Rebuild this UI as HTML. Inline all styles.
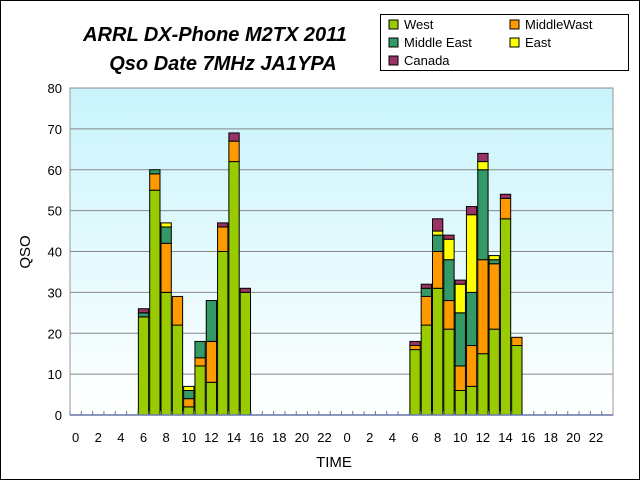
<!DOCTYPE html>
<html><head><meta charset="utf-8"><style>
body{margin:0;background:#fff;font-family:"Liberation Sans",sans-serif}
</style></head><body>
<svg id="c" width="640" height="480" xmlns="http://www.w3.org/2000/svg">
<defs><linearGradient id="g" x1="0" y1="0" x2="0" y2="1"><stop offset="0" stop-color="#c8f4fc"/><stop offset="1" stop-color="#ffffff"/></linearGradient></defs>
<rect x="0.5" y="0.5" width="639" height="479" fill="#fff" stroke="#000"/>
<text x="215" y="41" font-size="20" font-weight="bold" font-style="italic" text-anchor="middle">ARRL DX-Phone M2TX 2011</text>
<text x="223" y="70" font-size="20" font-weight="bold" font-style="italic" text-anchor="middle">Qso Date 7MHz JA1YPA</text>
<g id="legend">
<rect x="380.5" y="14.5" width="248" height="56" fill="#fff" stroke="#000"/>
</g>
<rect x="70" y="88" width="543" height="327" fill="url(#g)" stroke="#999"/>
<g id="grid"></g><g id="bars"></g><g id="axes"></g>
<text x="334" y="467" font-size="15" text-anchor="middle">TIME</text>
<text x="30" y="252" font-size="15" text-anchor="middle" transform="rotate(-90 30 252)">QSO</text>
</svg>
<script>
const hours=[];for(let d=0;d<2;d++)for(let h=0;h<24;h++)hours.push(h);
const seriesNames=["West","MiddleWast","Middle East","East","Canada"];
const colors=["#99cc00","#ff9900","#339966","#ffff00","#993366"];
const west=      [0,0,0,0,0,0,24,55,30,22,2,12,8,40,62,30,0,0,0,0,0,0,0,0, 0,0,0,0,0,0,16,22,31,21,6,7,15,21,48,17,0,0,0,0,0,0,0,0];
const middleWast=[0,0,0,0,0,0,0,4,12,7,2,2,10,6,5,0,0,0,0,0,0,0,0,0, 0,0,0,0,0,0,1,7,9,7,6,10,23,16,5,2,0,0,0,0,0,0,0,0];
const middleEast=[0,0,0,0,0,0,1,1,4,0,2,4,10,0,0,0,0,0,0,0,0,0,0,0, 0,0,0,0,0,0,0,2,4,10,13,13,22,1,0,0,0,0,0,0,0,0,0,0];
const east=      [0,0,0,0,0,0,0,0,1,0,1,0,0,0,0,0,0,0,0,0,0,0,0,0, 0,0,0,0,0,0,0,0,1,5,7,19,2,1,0,0,0,0,0,0,0,0,0,0];
const canada=    [0,0,0,0,0,0,1,0,0,0,0,0,0,1,2,1,0,0,0,0,0,0,0,0, 0,0,0,0,0,0,1,1,3,1,1,2,2,0,1,0,0,0,0,0,0,0,0,0];
const series=[west,middleWast,middleEast,east,canada];
const yTicks=[0,10,20,30,40,50,60,70,80];
const NS="http://www.w3.org/2000/svg";
const X0=70,X1=613,Y0=415,Y1=88,YMAX=80;
const slot=(X1-X0)/hours.length;
const xs=i=>X0+i*slot;
const ys=v=>Y0-(v/YMAX)*(Y0-Y1);
function mk(t,a,p){const e=document.createElementNS(NS,t);for(const k in a)e.setAttribute(k,a[k]);p.appendChild(e);return e;}
const grid=document.getElementById('grid'),bars=document.getElementById('bars'),axes=document.getElementById('axes');
yTicks.forEach(v=>{
 if(v>0){const l=mk('line',{x1:X0,x2:X1,y1:ys(v),y2:ys(v),stroke:'#888','stroke-width':1},grid);
 }
 const t=mk('text',{x:X0-8,y:ys(v)+5,'font-size':13,'text-anchor':'end'},axes);t.textContent=v;
 
});
const ax=mk('line',{x1:X0,x2:X1,y1:Y0,y2:Y0,stroke:'#6677aa','stroke-width':1.5},axes);

hours.forEach((h,i)=>{
 const tk=mk('line',{x1:xs(i),x2:xs(i),y1:Y0,y2:Y0-4,stroke:'#6677aa'},axes);
 
 if(h%2===0){const t=mk('text',{x:xs(i)+slot/2,y:442,'font-size':13,'text-anchor':'middle'},axes);t.textContent=h;
 }
 let cum=0;
 series.forEach((s,k)=>{const v=s[i];if(!v)return;
  const r=mk('rect',{x:xs(i)+0.5,y:ys(cum+v),width:slot-1,height:ys(cum)-ys(cum+v),fill:colors[k],stroke:'#000','stroke-width':1},bars);
  
  cum+=v;});
});
const lg=document.getElementById('legend');
const lpos=[[398,25],[519,25],[398,43],[519,43],[398,61]];
seriesNames.forEach((n,k)=>{
 const r=mk('rect',{x:lpos[k][0]-9,y:lpos[k][1]-5,width:9,height:9,fill:colors[k],stroke:'#000'},lg);
 
 const t=mk('text',{x:lpos[k][0]+6,y:lpos[k][1]+4,'font-size':13},lg);t.textContent=n;
 
});
</script>
</body></html>
